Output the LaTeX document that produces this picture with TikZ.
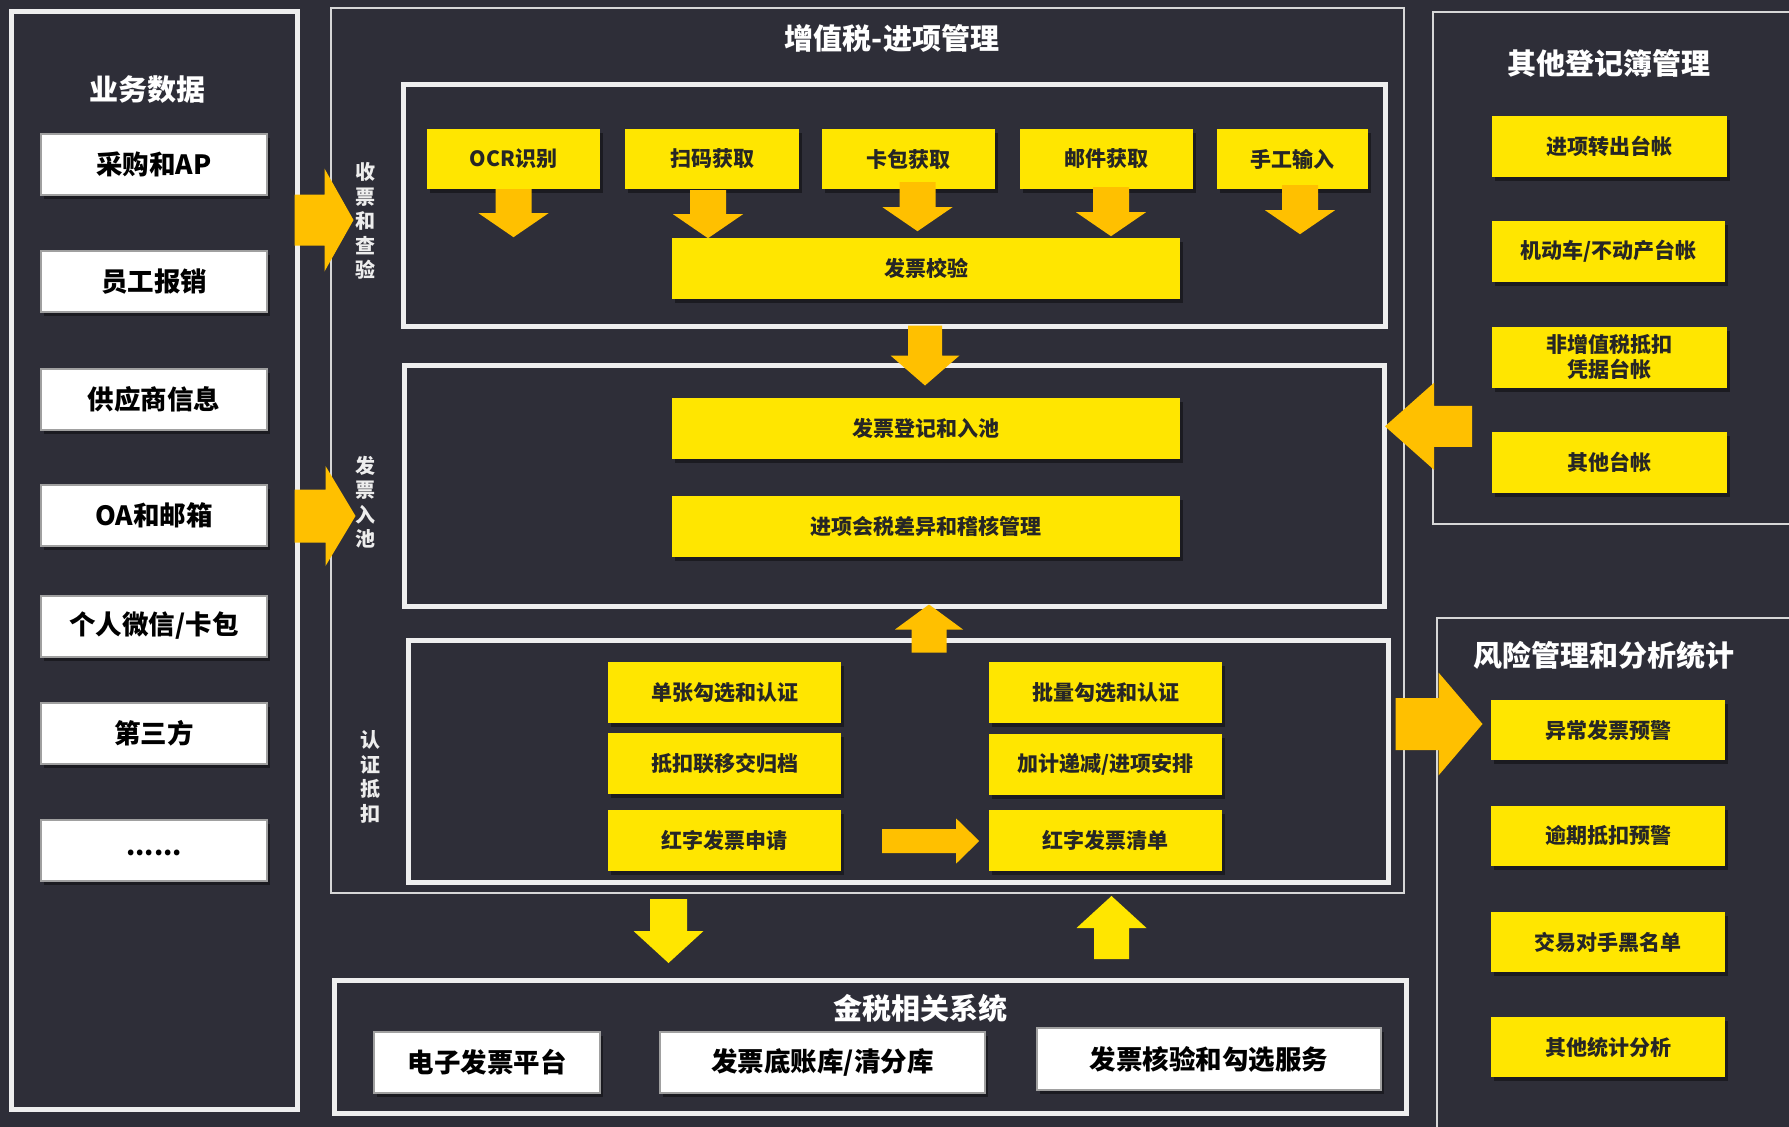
\documentclass[tikz,border=0pt]{standalone}
\usepackage{fontspec}
\setmainfont{Noto Sans CJK SC}
\usetikzlibrary{shadows,calc}
\definecolor{bg}{RGB}{46,46,56}
\definecolor{ybox}{RGB}{255,230,0}
\definecolor{oarrow}{RGB}{255,192,0}
\definecolor{frame}{RGB}{238,238,238}
\definecolor{thinframe}{RGB}{215,215,215}
\definecolor{ytext}{RGB}{38,38,38}
\definecolor{wborder}{RGB}{160,160,160}
\newcommand\fs[1]{\fontsize{#1}{#1}\selectfont\bfseries}
% [style]{start}{angle}{length}{shaft width}{head width}{head length}
\newcommand\barrow[7][oarr]{\fill[#1, shift={#2}, rotate=#3] (0,-#5/2) -- (#4-#7,-#5/2) -- (#4-#7,-#6/2) -- (#4,0) -- (#4-#7,#6/2) -- (#4-#7,#5/2) -- (0,#5/2) -- cycle;}
\tikzset{
  panelthick/.style={draw=frame, line width=5pt, inner sep=0pt},
  panelthin/.style={draw=thinframe, line width=2pt, inner sep=0pt},
  shd/.style={drop shadow={shadow xshift=3pt, shadow yshift=-4pt, opacity=.4, fill=black}},
  ybx/.style={shd, fill=ybox, text=ytext, inner sep=0pt, minimum height=61pt, font={\fs{21}}},
  wbx/.style={shd, fill=white, draw=wborder, line width=2pt, text=black, inner sep=0pt, minimum height=61pt, font={\fs{26.5}}},
  ttl/.style={text=white, inner sep=0pt, font={\fs{29}}},
  vlbl/.style={text=white!93!black, align=center, inner sep=0pt, font={\fontsize{20}{24.5}\selectfont\bfseries}},
  oarr/.style={fill=oarrow},
  yarr/.style={fill=ybox},
}
\begin{document}
\begin{tikzpicture}[x=1pt,y=-1pt]
\useasboundingbox (0,0) rectangle (1789,1127);
\fill[bg] (0,0) rectangle (1789,1127);

% ---------- panels ----------
\node[panelthick, minimum width=286pt, minimum height=1098pt] (lp) at (154.5,560.5) {};
\node[panelthin, minimum width=1073pt, minimum height=885pt] (cp) at (867.5,450.5) {};
\node[panelthick, minimum width=982pt, minimum height=242pt] (box1) at (894.5,205.5) {};
\node[panelthick, minimum width=980pt, minimum height=241pt] (box2) at (894.5,486) {};
\node[panelthick, minimum width=980pt, minimum height=242pt] (box3) at (898.5,761.5) {};
\node[panelthick, minimum width=1072pt, minimum height=133pt] (gbox) at (870.5,1047) {};
\node[panelthin, minimum width=367pt, minimum height=512pt] (rtp) at (1616.5,268) {};
\node[panelthin, minimum width=363pt, minimum height=522pt] (rbp) at (1618.5,879) {};

% ---------- titles ----------
\node[ttl] (t-left) at (147,90) {业务数据};
\node[ttl] (t-center) at (892,38) {增值税-进项管理};
\node[ttl] (t-rtop) at (1609,63) {其他登记簿管理};
\node[ttl] (t-rbot) at (1604,655) {风险管理和分析统计};
\node[ttl] (t-gold) at (920,1008) {金税相关系统};

\node[vlbl] (v1) at (365,221) {收\\票\\和\\查\\验};
\node[vlbl] (v2) at (365,502) {发\\票\\入\\池};
\node[vlbl] (v3) at (370,777) {认\\证\\抵\\扣};

% ---------- left white boxes ----------
\node[wbx, minimum width=226pt] (w1) at (154,164.5) {采购和AP};
\node[wbx, minimum width=226pt] (w2) at (154,281.5) {员工报销};
\node[wbx, minimum width=226pt] (w3) at (154,399) {供应商信息};
\node[wbx, minimum width=226pt] (w4) at (154,515.5) {OA和邮箱};
\node[wbx, minimum width=226pt] (w5) at (154,626) {个人微信/卡包};
\node[wbx, minimum width=226pt] (w6) at (154,733) {第三方};
\node[wbx, minimum width=226pt] (w7) at (154,850) {\smash{\raisebox{-5pt}{......}}};

% ---------- box 1 ----------
\node[ybx, minimum width=173pt, minimum height=60pt] (ocr) at (513.5,159) {OCR识别};
\node[ybx, minimum width=174pt, minimum height=60pt] (scan) at (712,159) {扫码获取};
\node[ybx, minimum width=173pt, minimum height=60pt] (card) at (908.5,159) {卡包获取};
\node[ybx, minimum width=173pt, minimum height=60pt] (mail) at (1106.5,159) {邮件获取};
\node[ybx, minimum width=151pt, minimum height=60pt] (manual) at (1292.5,159) {手工输入};
\node[ybx, minimum width=508pt] (verify) at (926,268.5) {发票校验};

% ---------- box 2 ----------
\node[ybx, minimum width=508pt] (reg) at (926,428.5) {发票登记和入池};
\node[ybx, minimum width=508pt] (audit) at (926,526.5) {进项会税差异和稽核管理};

% ---------- box 3 ----------
\node[ybx, minimum width=233pt] (s1) at (724.5,692.5) {单张勾选和认证};
\node[ybx, minimum width=233pt] (s2) at (724.5,763.5) {抵扣联移交归档};
\node[ybx, minimum width=233pt] (s3) at (724.5,840.5) {红字发票申请};
\node[ybx, minimum width=233pt] (b1) at (1105.5,692.5) {批量勾选和认证};
\node[ybx, minimum width=233pt] (b2) at (1105.5,764.5) {加计递减/进项安排};
\node[ybx, minimum width=233pt] (b3) at (1105.5,840.5) {红字发票清单};

% ---------- right top ----------
\node[ybx, minimum width=235pt] (r1) at (1609.5,146.5) {进项转出台帐};
\node[ybx, minimum width=233pt] (r2) at (1608.5,251.5) {机动车/不动产台帐};
\node[ybx, minimum width=235pt, align=center, font={\fontsize{21}{25}\selectfont\bfseries}] (r3) at (1609.5,357) {非增值税抵扣\\凭据台帐};
\node[ybx, minimum width=235pt] (r4) at (1609.5,462.5) {其他台帐};

% ---------- right bottom ----------
\node[ybx, minimum width=234pt, minimum height=60pt] (k1) at (1608,730) {异常发票预警};
\node[ybx, minimum width=234pt, minimum height=60pt] (k2) at (1608,835.5) {逾期抵扣预警};
\node[ybx, minimum width=234pt, minimum height=60pt] (k3) at (1608,942) {交易对手黑名单};
\node[ybx, minimum width=234pt, minimum height=60pt] (k4) at (1608,1047) {其他统计分析};

% ---------- bottom white ----------
\node[wbx, minimum width=226pt] (g1) at (487,1062.5) {电子发票平台};
\node[wbx, minimum width=325pt] (g2) at (822.5,1062.5) {发票底账库/清分库};
\node[wbx, minimum width=344pt, minimum height=62pt] (g3) at (1209,1059) {发票核验和勾选服务};

% ---------- arrows ----------
\barrow{(ocr.south)}{-90}{48}{36}{70}{24}
\barrow{($(scan.south)+(-4,1)$)}{-90}{48}{36}{70}{24}
\barrow{($(card.south)+(9,-7)$)}{-90}{49}{36}{70}{24}
\barrow{($(mail.south)+(4.5,-2)$)}{-90}{49}{36}{70}{24}
\barrow{($(manual.south)+(7.5,-4)$)}{-90}{49}{36}{70}{24}
\barrow{($(verify.south |- box1.south)+(-1,-3.5)$)}{-90}{60}{34}{69}{30}
\barrow{($(verify.south |- box3.north)+(3,14.5)$)}{90}{48}{35}{68}{25}
\coordinate (la1) at ($(lp.east |- w1.south)+(-5.5,24)$);
\coordinate (la2) at ($(lp.east |- w4.center)+(-5.5,0.5)$);
\barrow{(la1)}{0}{59}{51}{103}{29}
\barrow{(la2)}{0}{61}{53}{100}{30}
\barrow{($(s3.east)+(41,0.5)$)}{0}{97}{24}{45}{23}
\coordinate (ra1) at ($(rtp.west |- r4.north)+(40,-5.5)$);
\barrow{(ra1)}{180}{87}{41}{87}{49}
\coordinate (ra2) at ($(box3.east |- k1.center)+(4.5,-6)$);
\barrow{(ra2)}{0}{87}{52}{103}{44}
\coordinate (ba1) at ($(g1.north)+(181.5,-132)$);
\barrow[yarr]{(ba1)}{-90}{64}{37}{70}{32}
\coordinate (ba2) at ($(g3.north)+(-97.5,-68)$);
\barrow[yarr]{(ba2)}{90}{63}{35}{70}{32}
\end{tikzpicture}
\end{document}
